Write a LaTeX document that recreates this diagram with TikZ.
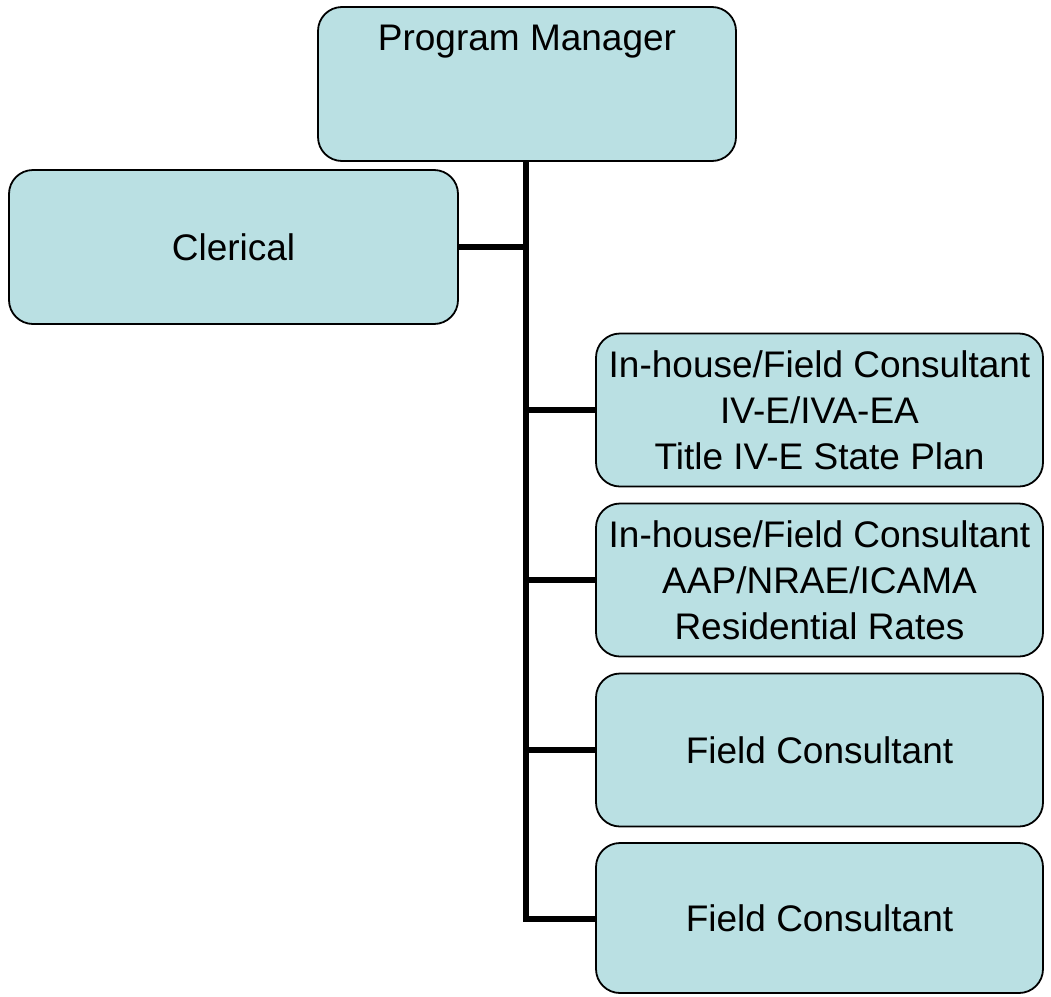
\documentclass[tikz,border=0pt]{standalone}
\usepackage{fontspec}
\setmainfont{Liberation Sans}
\begin{document}
\definecolor{boxfill}{RGB}{186,224,227}
\begin{tikzpicture}[x=1pt,y=-1pt,
  orgbox/.style={draw=black, line width=1.8pt, fill=boxfill, rounded corners=24pt,
    minimum width=447pt, minimum height=153pt, inner sep=0pt, align=center,
    font=\fontsize{37pt}{46pt}\selectfont},
  lbl/.style={inner sep=0pt, align=center, font=\fontsize{37pt}{46pt}\selectfont},
  link/.style={line width=6pt}]
\useasboundingbox (0,0) rectangle (1051,996);

% top and side boxes
\node[orgbox, minimum width=418pt, minimum height=154pt] (pm) at (527,84) {};
\node[lbl] (pmtext) at (527,42) {Program Manager};
\node[orgbox, minimum width=449pt, minimum height=154pt] (cl) at (233.5,247) {Clerical};

% consultant column
\node[orgbox] (c1) at (819.5,410) {In-house/Field Consultant\\IV-E/IVA-EA\\Title IV-E State Plan};
\node[orgbox] (c2) at (819.5,580) {In-house/Field Consultant\\AAP/NRAE/ICAMA\\Residential Rates};
\node[orgbox] (c3) at (819.5,750) {Field Consultant};
\node[orgbox, minimum height=150pt] (c4) at (819.5,918) {Field Consultant};

% trunk and branches
\coordinate (tb) at (526,919);
\draw[link] (pm.south -| tb) -- (tb) -- (c4.west |- tb);
\draw[link] (cl.east) -- (cl.east -| tb);
\draw[link] (c1.west -| tb) -- (c1.west);
\draw[link] (c2.west -| tb) -- (c2.west);
\draw[link] (c3.west -| tb) -- (c3.west);
\end{tikzpicture}
\end{document}
